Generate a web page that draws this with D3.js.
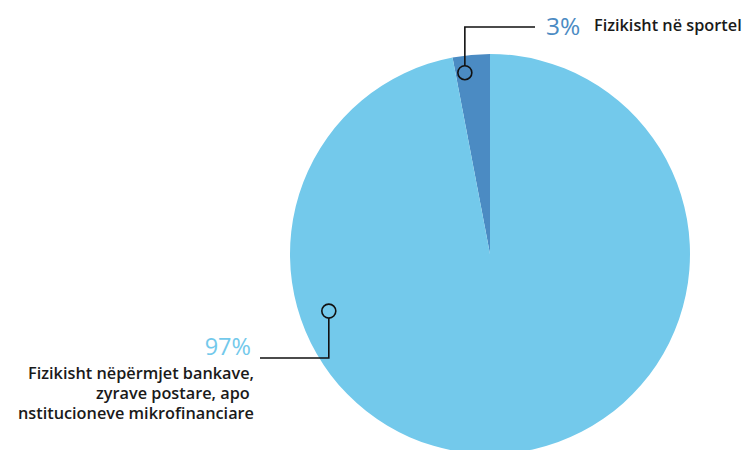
<!DOCTYPE html>
<html>
<head>
<meta charset="utf-8">
<script src="https://cdn.jsdelivr.net/npm/d3@7"></script>
<style>
  html, body { margin: 0; padding: 0; background: #ffffff; }
  svg { display: block; }
</style>
</head>
<body>
<svg id="chart" width="750" height="450"></svg>
<script>
// Shares of cash payment channels
const categories = ["Fizikisht në sportel", "Fizikisht nëpërmjet bankave, zyrave postare, apo nstitucioneve mikrofinanciare"];
const values = [3, 97];
const percentLabels = ["3%", "97%"];
const colors = ["#4b8bc3", "#73c9eb"];

const svg = d3.select("#chart");
const cx = 490, cy = 254, radius = 200;

const startA = -2 * Math.PI * values[0] / d3.sum(values);
const pie = d3.pie().sort(null).value(d => d).startAngle(startA).endAngle(startA + 2 * Math.PI);
const arc = d3.arc().innerRadius(0).outerRadius(radius);

const g = svg.append("g").attr("transform", `translate(${cx},${cy})`);
const arcs = pie(values);

g.selectAll("path.slice")
  .data(arcs)
  .join("path")
  .attr("class", "slice")
  .attr("d", arc)
  .attr("fill", (d, i) => colors[i]);

// Callout anchors in polar form (angle in degrees from 12 o'clock, radius in px)
const anchors = [
  { angle: -7.9, r: 183 },
  { angle: 250.5, r: 171 }
];
function polar(a) {
  const t = a.angle * Math.PI / 180;
  return [cx + a.r * Math.sin(t), cy - a.r * Math.cos(t)];
}

const lineColor = "#111111";
const markerR = 7;
const labelFont = "'Open Sans', sans-serif";
const labelSize = 16.3;

// Small slice callout: up then right
{
  const [x, y] = polar(anchors[0]);
  svg.append("path")
    .attr("d", `M${x},${y - markerR} V27 H535`)
    .attr("fill", "none").attr("stroke", lineColor).attr("stroke-width", 1.6);
  svg.append("circle").attr("cx", x).attr("cy", y).attr("r", markerR)
    .attr("fill", "none").attr("stroke", lineColor).attr("stroke-width", 1.6);
  svg.append("text").attr("x", 546).attr("y", 35)
    .attr("font-family", labelFont).attr("font-size", 24.5).attr("font-weight", 500)
    .attr("fill", colors[0]).text(percentLabels[0]);
  svg.append("text").attr("x", 594).attr("y", 31)
    .attr("font-family", labelFont).attr("font-size", labelSize).attr("font-weight", 600)
    .attr("fill", "#1a1a1a").text(categories[0]);
}

// Large slice callout: down then left
{
  const [x, y] = polar(anchors[1]);
  svg.append("path")
    .attr("d", `M${x},${y + markerR} V358 H260`)
    .attr("fill", "none").attr("stroke", lineColor).attr("stroke-width", 1.6);
  svg.append("circle").attr("cx", x).attr("cy", y).attr("r", markerR)
    .attr("fill", "none").attr("stroke", lineColor).attr("stroke-width", 1.6);
  svg.append("text").attr("x", 251).attr("y", 355).attr("text-anchor", "end")
    .attr("font-family", labelFont).attr("font-size", 23.5).attr("font-weight", 500)
    .attr("fill", colors[1]).text(percentLabels[1]);
  const lines = ["Fizikisht nëpërmjet bankave,", "zyrave postare, apo\u00a0", "nstitucioneve mikrofinanciare"];
  svg.append("text")
    .attr("text-anchor", "end")
    .attr("font-family", labelFont).attr("font-size", labelSize).attr("font-weight", 600)
    .attr("fill", "#1a1a1a")
    .selectAll("tspan").data(lines).join("tspan")
    .attr("x", 254).attr("y", (d, i) => 379 + i * 20)
    .text(d => d);
}
</script>
</body>
</html>
